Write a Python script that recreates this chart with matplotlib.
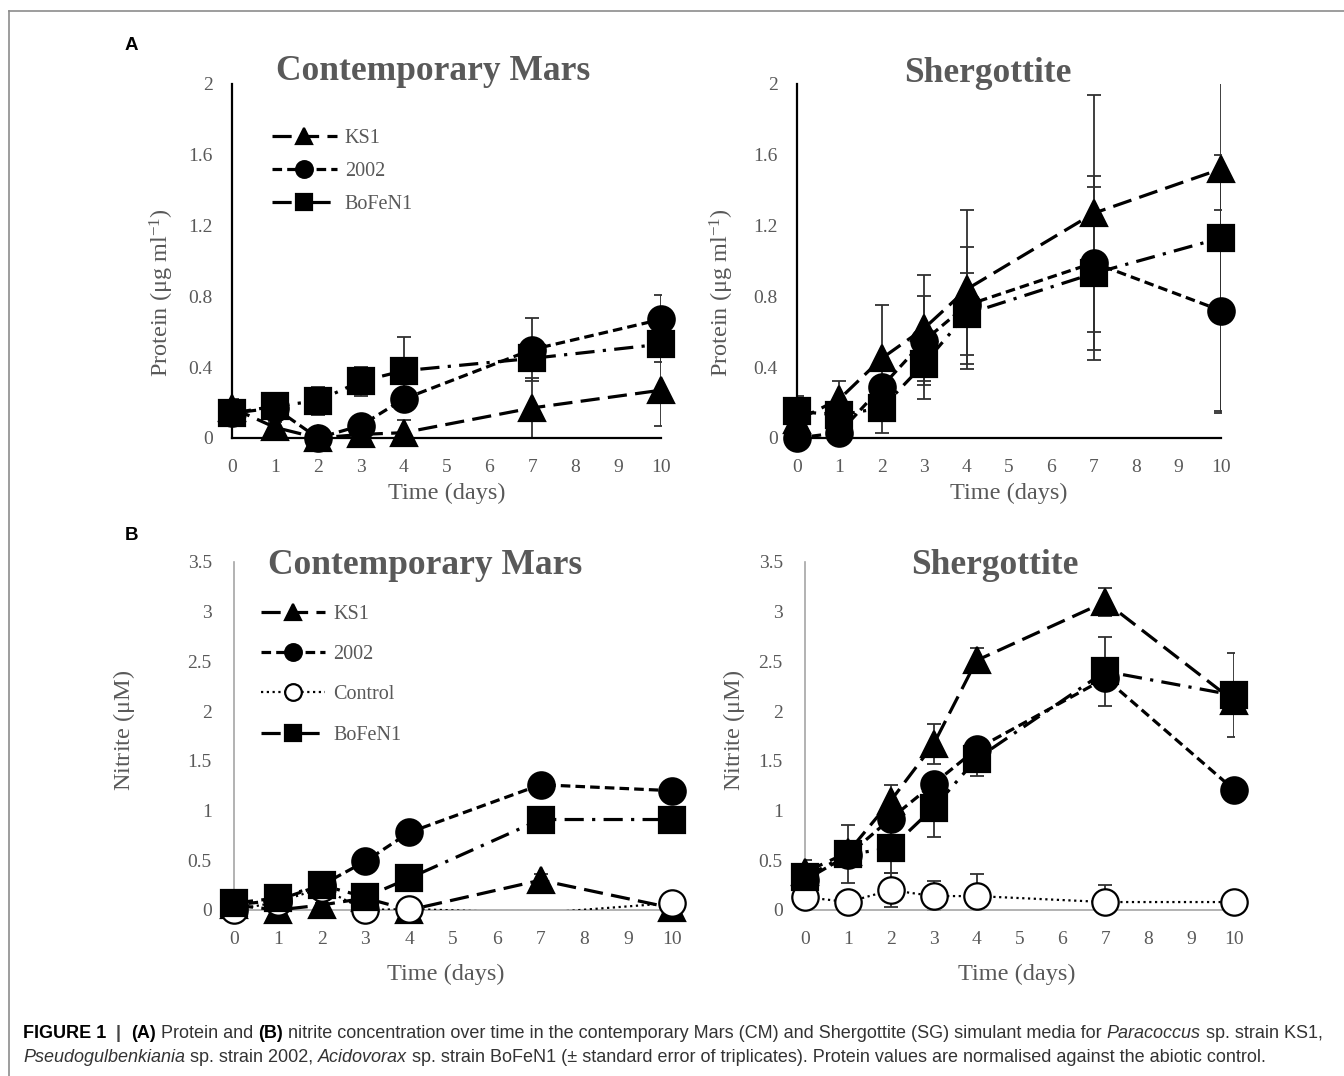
import numpy as np
import matplotlib
matplotlib.use("Agg")
import matplotlib.pyplot as plt
from matplotlib.lines import Line2D

plt.rcParams['font.family'] = ['Liberation Serif', 'DejaVu Serif']
plt.rcParams['mathtext.fontset'] = 'custom'
plt.rcParams['mathtext.rm'] = 'Liberation Serif'
plt.rcParams['mathtext.it'] = 'Liberation Serif:italic'

W, H = 1344, 1076

# ---- data ----
days = [0, 1, 2, 3, 4, 7, 10]
strains = ['KS1', '2002', 'Control', 'BoFeN1']

# A: protein (ug/ml), contemporary Mars
ks1_cm_prot = [0.17, 0.06, 0.00, 0.02, 0.03, 0.17, 0.27]
ks1_cm_prot_err = [0.05, 0.03, 0.02, 0.02, 0.07, 0.17, 0.20]
s2002_cm_prot = [0.14, 0.17, 0.00, 0.07, 0.22, 0.50, 0.67]
s2002_cm_prot_err = [0.02, 0.02, 0.02, 0.03, 0.05, 0.18, 0.14]
bofen_cm_prot = [0.14, 0.18, 0.21, 0.32, 0.38, 0.45, 0.53]
bofen_cm_prot_err = [0.03, 0.07, 0.08, 0.08, 0.19, 0.05, 0.10]

# A: protein, Shergottite
ks1_sg_prot = [0.10, 0.22, 0.45, 0.62, 0.84, 1.27, 1.52]
ks1_sg_prot_err = [0.05, 0.10, 0.30, 0.30, 0.45, 0.67, 1.38]
s2002_sg_prot = [0.00, 0.03, 0.29, 0.55, 0.75, 0.99, 0.72]
s2002_sg_prot_err = [0.02, 0.02, 0.05, 0.25, 0.33, 0.49, 0.57]
bofen_sg_prot = [0.15, 0.13, 0.17, 0.42, 0.70, 0.93, 1.13]
bofen_sg_prot_err = [0.09, 0.05, 0.14, 0.20, 0.23, 0.49, 0.47]

# B: nitrite (uM), contemporary Mars
ks1_cm_nit = [0.05, 0.00, 0.05, 0.12, 0.00, 0.30, 0.02]
ks1_cm_nit_err = [0.01, 0.01, 0.02, 0.02, 0.02, 0.06, 0.02]
s2002_cm_nit = [0.05, 0.10, 0.25, 0.49, 0.78, 1.26, 1.20]
s2002_cm_nit_err = [0.01, 0.02, 0.03, 0.03, 0.05, 0.04, 0.04]
ctrl_cm_nit = [0.00, 0.08, 0.22, 0.00, 0.01, -0.03, 0.07]
ctrl_cm_nit_err = [0.01, 0.01, 0.01, 0.01, 0.01, 0.01, 0.01]
bofen_cm_nit = [0.07, 0.12, 0.25, 0.13, 0.32, 0.91, 0.91]
bofen_cm_nit_err = [0.02, 0.02, 0.03, 0.03, 0.04, 0.04, 0.12]

# B: nitrite, Shergottite
ks1_sg_nit = [0.38, 0.58, 1.10, 1.67, 2.51, 3.10, 2.10]
ks1_sg_nit_err = [0.12, 0.10, 0.16, 0.20, 0.13, 0.14, 0.10]
s2002_sg_nit = [0.30, 0.55, 0.92, 1.27, 1.62, 2.33, 1.21]
s2002_sg_nit_err = [0.05, 0.05, 0.05, 0.05, 0.05, 0.10, 0.03]
ctrl_sg_nit = [0.13, 0.08, 0.20, 0.14, 0.14, 0.08, 0.08]
ctrl_sg_nit_err = [0.03, 0.02, 0.17, 0.15, 0.22, 0.17, 0.02]
bofen_sg_nit = [0.33, 0.56, 0.62, 1.03, 1.52, 2.40, 2.16]
bofen_sg_nit_err = [0.05, 0.29, 0.25, 0.30, 0.17, 0.35, 0.42]

# ---- styles ----
styles = {
    'KS1': dict(ls=(0, (6, 2.6)), marker='^', mfc='black', mec='black'),
    '2002': dict(ls=(0, (3, 1.6)), marker='o', mfc='black', mec='black'),
    'Control': dict(ls=(0, (1, 1.6)), marker='o', mfc='white', mec='black'),
    'BoFeN1': dict(ls=(0, (6, 2.6, 1, 2.6)), marker='s', mfc='black', mec='black'),
}
gray = '#595959'
fig = plt.figure(figsize=(W / 100, H / 100), dpi=100)


def frac(x, y):
    return x / W, 1 - y / H


def make_ax(l, t, r, b):
    return fig.add_axes([l / W, 1 - b / H, (r - l) / W, (b - t) / H])


def draw_series(ax, name, vals, err, ms=19):
    st = styles[name]
    v = np.array(vals, dtype=float)
    x = np.array(days)
    lw = 1.6 if name == 'Control' else 2.3
    ax.errorbar(x, v, yerr=err, fmt='none', ecolor='#303030', elinewidth=1.3,
                capsize=5, capthick=1.3, zorder=2)
    ax.plot(x, v, color='black', lw=lw, ls=st['ls'], zorder=3, clip_on=True)
    ok = v >= 0
    ax.plot(x[ok], v[ok], ls='none', marker=st['marker'], ms=ms, mfc=st['mfc'],
            mec=st['mec'], mew=1.6, zorder=4, clip_on=False)


def style_ax(ax, ymax, yticks, ylabel, spine_col, lcoords, xlcoords, ypad):
    ax.set_xlim(0, 10)
    ax.set_ylim(0, ymax)
    ax.set_xticks(range(0, 11))
    ax.set_yticks(yticks)
    ax.set_yticklabels([('%g' % t) for t in yticks])
    ax.tick_params(length=0, labelsize=14, labelcolor=gray)
    ax.tick_params(axis='x', pad=15)
    ax.tick_params(axis='y', pad=ypad)
    for s in ['top', 'right']:
        ax.spines[s].set_visible(False)
    for s in ['left', 'bottom']:
        ax.spines[s].set_color(spine_col)
        ax.spines[s].set_linewidth(1.6 if spine_col == 'black' else 1.2)
    ax.set_ylabel(ylabel, fontsize=17.5, color=gray)
    ax.yaxis.set_label_coords(*lcoords)
    ax.set_xlabel('Time (days)', fontsize=17.5, color=gray)
    ax.xaxis.set_label_coords(*xlcoords)
    ax.patch.set_alpha(0)


def add_legend(ax, names, anchor, spacing):
    handles = []
    for n in names:
        st = styles[n]
        lw = 1.6 if n == 'Control' else 2.3
        handles.append(Line2D([], [], color='black', lw=lw, ls=st['ls'], marker=st['marker'],
                              ms=12, mfc=st['mfc'], mec=st['mec'], mew=1.6))
    ax.legend(handles, names, loc='upper left', bbox_to_anchor=anchor, frameon=False,
              fontsize=14.5, labelcolor=gray, handlelength=3.2, handletextpad=0.4,
              labelspacing=spacing, borderaxespad=0)


prot_label = r'Protein ($\mathregular{\mu}$g ml$^{\mathregular{-1}}$)'
nit_label = r'Nitrite ($\mathregular{\mu}$M)'

# A left
ax1 = make_ax(232, 84, 661, 438)
draw_series(ax1, 'KS1', ks1_cm_prot, ks1_cm_prot_err)
draw_series(ax1, '2002', s2002_cm_prot, s2002_cm_prot_err)
draw_series(ax1, 'BoFeN1', bofen_cm_prot, bofen_cm_prot_err)
style_ax(ax1, 2, [0, 0.4, 0.8, 1.2, 1.6, 2], prot_label, 'black', (-0.13, 0.41), (0.5, -0.126), 14)
add_legend(ax1, ['KS1', '2002', 'BoFeN1'], (0.075, 0.895), 0.68)

# A right
ax2 = make_ax(797, 84, 1221, 438)
draw_series(ax2, 'KS1', ks1_sg_prot, ks1_sg_prot_err)
draw_series(ax2, '2002', s2002_sg_prot, s2002_sg_prot_err)
draw_series(ax2, 'BoFeN1', bofen_sg_prot, bofen_sg_prot_err)
style_ax(ax2, 2, [0, 0.4, 0.8, 1.2, 1.6, 2], prot_label, 'black', (-0.143, 0.41), (0.5, -0.126), 14)

# B left
ax3 = make_ax(234, 562, 672, 910)
draw_series(ax3, 'KS1', ks1_cm_nit, ks1_cm_nit_err)
draw_series(ax3, '2002', s2002_cm_nit, s2002_cm_nit_err)
draw_series(ax3, 'Control', ctrl_cm_nit, ctrl_cm_nit_err)
draw_series(ax3, 'BoFeN1', bofen_cm_nit, bofen_cm_nit_err)
style_ax(ax3, 3.5, [0, 0.5, 1, 1.5, 2, 2.5, 3, 3.5], nit_label, '#a6a6a6', (-0.221, 0.517), (0.484, -0.154), 16)
add_legend(ax3, ['KS1', '2002', 'Control', 'BoFeN1'], (0.043, 0.9), 1.05)

# B right
ax4 = make_ax(805, 562, 1234, 910)
draw_series(ax4, 'KS1', ks1_sg_nit, ks1_sg_nit_err)
draw_series(ax4, '2002', s2002_sg_nit, s2002_sg_nit_err)
draw_series(ax4, 'Control', ctrl_sg_nit, ctrl_sg_nit_err)
draw_series(ax4, 'BoFeN1', bofen_sg_nit, bofen_sg_nit_err)
style_ax(ax4, 3.5, [0, 0.5, 1, 1.5, 2, 2.5, 3, 3.5], nit_label, '#a6a6a6', (-0.135, 0.517), (0.494, -0.154), 16)

# titles
for x, y, t in [(433, 71, 'Contemporary Mars'), (988, 73, 'Shergottite'),
                (425, 566, 'Contemporary Mars'), (995, 566, 'Shergottite')]:
    fig.text(*frac(x, y), t, ha='center', va='center', fontsize=25.5, fontweight='bold', color=gray)

# panel letters
for x, y, t in [(131, 45, 'A'), (131, 536, 'B')]:
    fig.text(*frac(x, y), t, ha='center', va='center', fontsize=13.5, fontweight='bold',
             family=['Liberation Sans', 'DejaVu Sans'], color='black')

# frame
fig.add_artist(Line2D([9 / W, 1], [1 - 11 / H, 1 - 11 / H], color='#8c8c8c', lw=1.2))
fig.add_artist(Line2D([9 / W, 9 / W], [0, 1 - 11 / H], color='#8c8c8c', lw=1.2))

# caption with mixed styles
cap1 = [('FIGURE 1', 'bold', 'normal', 'black'), ('  |  ', 'bold', 'normal', '#444444'),
        ('(A)', 'bold', 'normal', 'black'), (' Protein and ', 'normal', 'normal', '#333333'),
        ('(B)', 'bold', 'normal', 'black'),
        (' nitrite concentration over time in the contemporary Mars (CM) and Shergottite (SG) simulant media for ',
         'normal', 'normal', '#333333'),
        ('Paracoccus', 'normal', 'italic', '#333333'), (' sp. strain KS1,', 'normal', 'normal', '#333333')]
cap2 = [('Pseudogulbenkiania', 'normal', 'italic', '#333333'), (' sp. strain 2002, ', 'normal', 'normal', '#333333'),
        ('Acidovorax', 'normal', 'italic', '#333333'),
        (' sp. strain BoFeN1 (\u00b1 standard error of triplicates). Protein values are normalised against the abiotic control.',
         'normal', 'normal', '#333333')]
cap_family = ['Liberation Sans Narrow', 'Liberation Sans', 'DejaVu Sans']
renderer = fig.canvas.get_renderer()


def draw_runs(runs, x0, y, size, draw=True):
    x = x0
    for txt, wgt, sty, col in runs:
        t = fig.text(x / W, 1 - y / H, txt, fontsize=size, fontweight=wgt, fontstyle=sty,
                     color=col, family=cap_family, va='center', ha='left')
        bb = t.get_window_extent(renderer)
        x += bb.width
        if not draw:
            t.remove()
    return x - x0


w = draw_runs(cap1, 23, 1034, 10, draw=False)
cap_size = 10 * 1302 / w
draw_runs(cap1, 23, 1034, cap_size)
draw_runs(cap2, 23, 1058, cap_size)

fig.savefig('out.png', dpi=100)
